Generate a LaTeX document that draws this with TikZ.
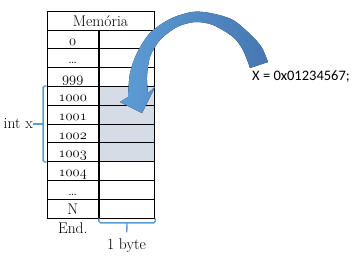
\documentclass[tikz,border=0pt]{standalone}
\usepackage{fontspec}
\usepackage{xcolor}
\newfontfamily\calfont{Carlito}
\usetikzlibrary{positioning, calc}

\definecolor{cellgray}{RGB}{214,220,229}
\definecolor{bracecol}{RGB}{91,155,213}
\definecolor{arrowlight}{RGB}{93,156,214}
\definecolor{arrowdark}{RGB}{70,120,178}

\newcommand{\osn}[1]{{\usefont{OML}{cmm}{m}{it}#1}}

\begin{document}
\begin{tikzpicture}[
        x=1pt, y=-1pt,
        every node/.style={font=\fontsize{15.5}{17}\selectfont, inner sep=0pt},
        header/.style={rectangle, draw, line width=0.8pt, minimum width=107pt, minimum height=19pt, text height=11pt, text depth=0pt},
        addr/.style={rectangle, draw, line width=0.8pt, minimum width=51.5pt, minimum height=18.8pt, text height=12pt, text depth=0.8pt},
        cell/.style={rectangle, draw, line width=0.8pt, minimum width=55.5pt, minimum height=18.8pt},
        brace/.style={draw=bracecol, line width=1.4pt, rounded corners=1.5pt},
        bigarrow/.style={left color=arrowlight, right color=arrowdark}
    ]
    \useasboundingbox (0,0) rectangle (352,257);

    % Table
    \node[header] (mem) at (100.5,20.5) {Memória};
    \foreach \lbl/\bg [count=\i] in {\osn{0}/white, \ldots/white, \osn{999}/white,
            \osn{1000}/cellgray, \osn{1001}/cellgray, \osn{1002}/cellgray, \osn{1003}/cellgray,
            \osn{1004}/white, \ldots/white, N/white} {
        \node[addr] (a\i) at (72.75,{30+18.8*(\i-0.5)}) {\lbl};
        \node[cell, fill=\bg, right=0pt of a\i] (b\i) {};
    }
    \node[below=4.5pt of a10] (endlbl) {End.};

    % Braces
    \node[anchor=east] (intx) at (33,124) {int x};
    \draw[brace] (a4.north west) -- ++(-3.5,0) coordinate (bt) -- (bt |- a7.south west) -- (a7.south west);
    \draw[brace] (intx.east) -- (intx.east -| bt);

    \node (onebyte) at (126.5,245.5) {1 byte};
    \draw[brace] (b10.south west) -- ++(0,4.5) coordinate (bl) -- (bl -| b10.south east) -- (b10.south east);
    \draw[brace, shorten >=6pt] (bl -| b10.south) -- (onebyte.north);

    % Value and curved arrow
    \node[font=\calfont\fontsize{14.5}{16}\selectfont, anchor=base west] (xval) at (252,80) {X = 0x01234567;};
    \fill[bigarrow] plot[smooth] coordinates {(268,62) (262,48) (253,37) (233,20) (210,13) (192,12) (170,19) (150,33) (137,53) (130,73) (128,97)}
        -- (120,102) -- (142,113) -- (155,87)
        -- plot[smooth] coordinates {(148,93) (147,77) (150,57) (160,40) (177,27) (195,22) (213,25) (233,37) (243,50) (250,68)}
        -- cycle;

\end{tikzpicture}
\end{document}
